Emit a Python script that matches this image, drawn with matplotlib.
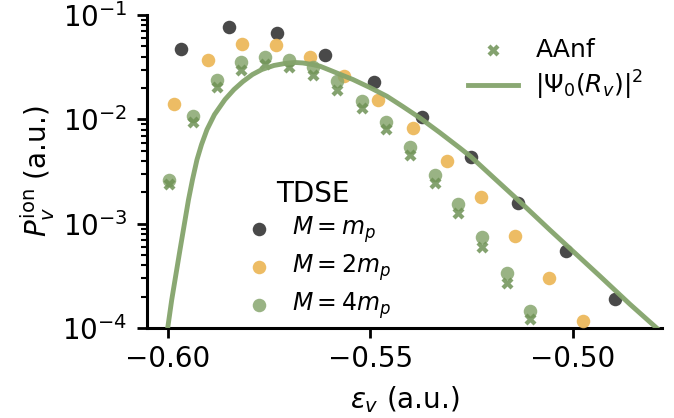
"""
Ionisation probability per vibrational level vs level energy.

TDSE results for three nuclear masses, the AAnf model and the
ground-state density |Psi_0(R_v)|^2, on a log scale.
"""

import matplotlib
matplotlib.use("Agg")
import matplotlib.pyplot as plt

plt.rcParams["font.family"] = ["DejaVu Sans"]
plt.rcParams["mathtext.fontset"] = "dejavusans"

# TDSE, M = m_p
eps_m1 = [-0.5968, -0.5849, -0.5731, -0.5612, -0.5491, -0.5373, -0.5252,
          -0.5136, -0.5017, -0.4896]
p_m1 = [0.0469, 0.0762, 0.0667, 0.0410, 0.0226, 0.01064, 0.00440,
        0.00159, 0.000550, 0.000190]

# TDSE, M = 2 m_p
eps_m2 = [-0.5985, -0.5901, -0.5817, -0.5733, -0.5649, -0.5565, -0.5482,
          -0.5395, -0.5311, -0.5227, -0.5143, -0.5059, -0.4975]
p_m2 = [0.01419, 0.0375, 0.0524, 0.0512, 0.0393, 0.0258, 0.01549,
        0.00834, 0.00402, 0.00181, 0.000766, 0.000302, 0.000117]

# TDSE, M = 4 m_p
eps_m4 = [-0.5998, -0.5938, -0.5879, -0.5820, -0.5760, -0.5701, -0.5642,
          -0.5583, -0.5521, -0.5462, -0.5402, -0.5341, -0.5284, -0.5225,
          -0.5163, -0.5106]
p_m4 = [0.00264, 0.01088, 0.0236, 0.0352, 0.0393, 0.0367, 0.0315,
        0.0231, 0.01517, 0.00953, 0.00548, 0.00295, 0.00155, 0.000748,
        0.000337, 0.000146]

# AAnf model on the M = 4 m_p levels
p_aanf = [0.00241, 0.00937, 0.0203, 0.0296, 0.0336, 0.0315, 0.0264,
          0.0193, 0.01297, 0.00816, 0.00459, 0.00247, 0.00127, 0.000600,
          0.000270, 0.000122]

# |Psi_0(R_v)|^2 sampled along the level energy
eps_psi = [-0.600074, -0.599086, -0.597037, -0.594938, -0.593951, -0.592840,
           -0.591728, -0.590370, -0.588519, -0.585926, -0.583704, -0.581481,
           -0.579136, -0.576790, -0.573827, -0.571111, -0.568642, -0.566667,
           -0.564444, -0.562469, -0.559506, -0.556790, -0.554321, -0.550123,
           -0.545926, -0.541975, -0.537778, -0.532840, -0.527901, -0.525185,
           -0.519259, -0.513580, -0.505679, -0.499506, -0.493333, -0.485926,
           -0.479259]
p_psi = [1.0e-4, 1.857e-4, 5.615e-4, 1.697e-3, 2.641e-3, 4.110e-3,
         5.725e-3, 7.980e-3, 0.011121, 0.015496, 0.019327, 0.023070,
         0.026936, 0.030092, 0.032872, 0.034356, 0.035124, 0.034738,
         0.033605, 0.032369, 0.029107, 0.026346, 0.024118, 0.020203,
         0.016671, 0.013274, 0.010337, 0.007468, 0.005324, 0.004392,
         0.002700, 0.001697, 8.737e-4, 5.254e-4, 3.159e-4, 1.700e-4,
         1.0e-4]

c_m1 = "#3f3f3f"
c_m2 = "#ecb95c"
c_m4 = "#87a66e"
c_aanf = "#6f9256"

fig = plt.figure(figsize=(6.74, 4.18), dpi=100)
ax = fig.add_axes([0.218, 0.215, 0.764, 0.749])

d1 = ax.scatter(eps_m1, p_m1, s=95, color=c_m1, alpha=0.95, lw=0, zorder=3,
                label=r"$M = m_p$")
d2 = ax.scatter(eps_m2, p_m2, s=95, color=c_m2, alpha=0.95, lw=0, zorder=3,
                label=r"$M = 2m_p$")
d4 = ax.scatter(eps_m4, p_m4, s=95, color=c_m4, alpha=0.85, lw=0, zorder=3,
                label=r"$M = 4m_p$")
xa = ax.scatter(eps_m4, p_aanf, s=75, marker="X", color=c_aanf, alpha=0.85,
                lw=0, zorder=4, label="AAnf")
ln, = ax.plot(eps_psi, p_psi, color="#84a46b", lw=3.5, alpha=0.95, zorder=5,
              label=r"$|\Psi_0(R_v)|^2$")

ax.set_yscale("log")
ax.set_ylim(1e-4, 1e-1)
ax.set_xlim(-0.6052, -0.478)
ax.set_xticks([-0.60, -0.55, -0.50])
ax.set_xticklabels(["\u22120.60", "\u22120.55", "\u22120.50"])

for side in ("top", "right"):
    ax.spines[side].set_visible(False)
for side in ("left", "bottom"):
    ax.spines[side].set_linewidth(2.2)
ax.tick_params(which="major", length=7, width=2, labelsize=20, pad=5)
ax.tick_params(axis="y", which="major", pad=7)
ax.tick_params(which="minor", length=4, width=1.5)

ax.set_xlabel(r"$\varepsilon_v$ (a.u.)", fontsize=20, labelpad=8)
ax.set_ylabel(r"$P_v^{\rm ion}$ (a.u.)", fontsize=20, labelpad=4)

leg1 = ax.legend(handles=[d1, d2, d4], title="TDSE", loc="lower left",
                 bbox_to_anchor=(0.13, -0.045), frameon=False, fontsize=17,
                 title_fontsize=20, handletextpad=0.4, labelspacing=0.3)
ax.add_artist(leg1)
ax.legend(handles=[xa, ln], loc="upper right", bbox_to_anchor=(1.008, 1.0),
          frameon=False, fontsize=18, handlelength=2.0, handletextpad=0.7,
          labelspacing=0.3)

fig.savefig("out.png", dpi=100)
